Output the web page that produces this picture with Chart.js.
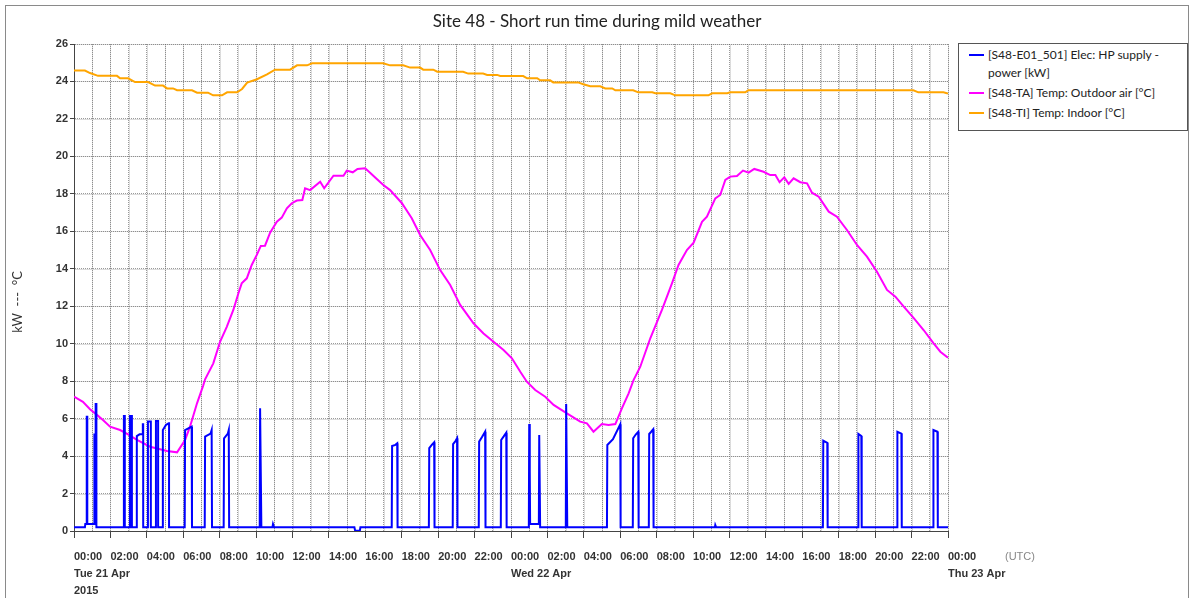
<!DOCTYPE html>
<html><head><meta charset="utf-8">
<script src="https://cdn.jsdelivr.net/npm/chart.js@4.4.1/dist/chart.umd.min.js"></script>
<style>
html,body{margin:0;padding:0;background:#fff;}
#wrap{position:relative;width:1194px;height:598px;overflow:hidden;}
#frame{position:absolute;left:5px;top:5px;width:1184px;height:600px;border:1px solid #8a8a8a;box-sizing:border-box;}
#c{position:absolute;left:0;top:0;}
#legend{position:absolute;left:958px;top:43px;width:230px;height:88px;border:1px solid #555;box-sizing:border-box;font-family:Lato,"Open Sans",sans-serif;font-size:12px;color:#222;background:#fff;}
.sw{position:absolute;left:10px;width:15px;height:2px;}
.tx{position:absolute;left:29px;line-height:17.7px;white-space:nowrap;}
</style></head>
<body><div id="wrap">
<div id="frame"></div>
<canvas id="c" width="1194" height="598"></canvas>
<div id="legend">
  <div class="sw" style="top:10px;background:#0000ff"></div>
  <div class="tx" style="top:2px">[S48-E01_501] Elec: HP supply -<br>power [kW]</div>
  <div class="sw" style="top:48px;background:#ff00ff"></div>
  <div class="tx" style="top:40px">[S48-TA] Temp: Outdoor air [°C]</div>
  <div class="sw" style="top:68px;background:#ffa500"></div>
  <div class="tx" style="top:60px">[S48-TI] Temp: Indoor [°C]</div>
</div>
</div>
<script>
// ---- data (x in hours since Tue 21 Apr 2015 00:00 UTC) ----
const titleText = 'Site 48 - Short run time during mild weather';
const yAxisTitle = 'kW  ---  °C';
const timeTickLabels = ['00:00','02:00','04:00','06:00','08:00','10:00','12:00','14:00','16:00','18:00','20:00','22:00','00:00','02:00','04:00','06:00','08:00','10:00','12:00','14:00','16:00','18:00','20:00','22:00','00:00'];
const dateTickLabels = ['Tue 21 Apr','Wed 22 Apr','Thu 23 Apr'];
const yearLabel = '2015';
const tzLabel = '(UTC)';

const powerT = [0,0.6,0.62,0.7,0.7,0.73,0.73,1.1,1.1,1.14,1.19,1.19,1.23,1.23,2.74,2.74,2.79,2.79,3.07,3.07,3.18,3.18,3.45,3.45,3.6,3.76,3.78,3.8,3.8,4.06,4.06,4.22,4.22,4.5,4.5,4.62,4.62,4.88,4.88,5.05,5.2,5.22,5.22,6.08,6.1,6.46,6.48,7.18,7.2,7.5,7.56,7.58,8.22,8.24,8.45,8.5,8.52,10.2,10.22,10.27,10.29,10.9,10.93,10.99,15.4,15.44,15.7,15.73,17.45,17.47,17.65,17.75,17.77,19.49,19.51,19.65,19.78,19.8,20.8,20.82,20.95,21.04,21.06,22.23,22.25,22.4,22.58,22.6,23.44,23.46,23.6,23.74,23.76,24.98,25.0,25.03,25.05,25.53,25.55,25.58,25.6,27.01,27.03,27.07,27.09,29.27,29.29,29.6,30.0,30.02,30.69,30.71,30.85,30.99,31.01,31.57,31.59,31.7,31.81,31.83,35.2,35.22,35.27,41.13,41.15,41.37,41.39,43.06,43.08,43.24,43.26,45.2,45.22,45.44,45.46,47.18,47.2,47.42,47.44,48];
const powerV = [0.2,0.2,0.37,0.37,6.1,6.1,0.37,0.37,5.2,0.37,0.37,6.78,6.78,0.2,0.2,6.14,6.14,0.2,0.2,6.14,6.14,0.2,0.2,5.07,5.16,5.16,5.7,5.7,0.2,0.2,5.84,5.84,0.2,0.2,5.87,5.87,0.2,0.2,5.39,5.66,5.75,5.75,0.2,0.2,5.39,5.57,0.2,0.2,5.04,5.2,5.39,0.2,0.2,4.95,5.2,5.39,0.2,0.2,6.55,6.55,0.2,0.2,0.37,0.2,0.2,0.02,0.02,0.2,0.2,4.54,4.6,4.68,0.2,0.2,4.42,4.6,4.74,0.2,0.2,4.64,4.8,4.95,0.2,0.2,4.77,5.0,5.3,0.2,0.2,4.86,5.05,5.25,0.2,0.2,5.71,3.17,0.37,0.37,5.13,5.13,0.2,0.2,6.78,6.78,0.2,0.2,4.59,4.9,5.7,0.2,0.2,4.95,5.15,5.3,0.2,0.2,5.18,5.3,5.43,0.2,0.2,0.32,0.2,0.2,4.82,4.71,0.2,0.2,5.18,5.07,0.2,0.2,5.3,5.2,0.2,0.2,5.39,5.3,0.2,0.2];

const outdoorT = [0,0.49,0.88,1.26,1.59,1.98,2.53,2.97,3.46,4.18,5.11,5.66,5.71,6.1,6.37,6.76,7.09,7.2,7.65,8.02,8.39,8.75,9.03,9.21,9.49,9.76,10.04,10.26,10.49,10.77,11.14,11.41,11.69,11.96,12.24,12.54,12.69,12.97,13.52,13.74,14.25,14.8,14.98,15.31,15.57,15.99,16.26,16.63,16.99,17.36,18.01,18.55,19.01,19.56,20.11,20.66,21.21,21.94,22.49,23.04,23.59,24.05,24.51,24.87,25.33,25.88,26.34,27.07,27.8,28.17,28.53,28.99,29.36,29.73,30.09,30.46,30.73,31.1,31.65,32.29,32.84,33.2,33.66,34.03,34.49,34.76,35.22,35.49,35.77,36.04,36.41,36.74,37.05,37.36,37.87,38.24,38.52,38.75,39.01,39.25,39.52,39.89,40.26,40.53,40.9,41.45,41.9,42.45,43.0,43.55,44.1,44.65,45.11,45.57,46.12,46.66,47.21,47.58,48];
const outdoorV = [7.17,6.9,6.5,6.2,5.93,5.57,5.39,5.16,4.86,4.5,4.27,4.2,4.2,4.86,5.57,6.83,7.75,8.1,8.95,10.1,10.9,11.8,12.69,13.22,13.49,14.2,14.74,15.22,15.23,15.93,16.51,16.73,17.23,17.5,17.64,17.67,18.3,18.2,18.65,18.3,18.97,18.97,19.24,19.15,19.33,19.36,19.13,18.79,18.47,18.2,17.5,16.7,15.8,15.0,13.93,13.13,12.07,11.09,10.55,10.1,9.66,9.22,8.5,7.97,7.53,7.17,6.73,6.28,5.84,5.75,5.3,5.71,5.66,5.71,6.55,7.35,8.06,8.77,10.29,11.8,13.22,14.2,15.0,15.39,16.51,16.78,17.76,17.94,18.74,18.92,18.95,19.24,19.13,19.33,19.18,19.0,19.0,18.62,18.88,18.53,18.83,18.62,18.56,18.06,17.85,17.05,16.78,16.07,15.27,14.65,13.84,12.87,12.51,11.98,11.36,10.73,10.02,9.57,9.25];

const indoorT = [0,0.6,0.88,1.32,2.36,2.53,2.97,3.35,4.07,4.45,4.89,5.11,5.44,5.66,6.48,6.76,7.36,7.64,8.13,8.41,8.96,9.23,9.51,10.05,10.6,11.04,11.87,12.25,12.8,13.08,16.98,17.36,18.08,18.46,19.01,19.18,19.73,19.95,21.37,21.65,22.47,22.69,23.24,23.41,24.67,24.89,25.44,25.6,26.15,26.32,27.69,27.97,28.35,28.9,29.18,29.56,29.73,30.71,30.99,31.76,31.92,32.75,33.02,34.84,35.05,35.88,36.04,36.87,37.03,46.1,46.37,47.75,48];
const indoorV = [24.58,24.58,24.45,24.3,24.3,24.17,24.17,23.97,23.97,23.78,23.78,23.63,23.63,23.53,23.53,23.4,23.4,23.26,23.26,23.42,23.42,23.6,23.94,24.12,24.38,24.63,24.63,24.86,24.86,24.97,24.97,24.86,24.86,24.74,24.74,24.63,24.63,24.52,24.52,24.42,24.42,24.35,24.35,24.29,24.29,24.17,24.17,24.06,24.06,23.95,23.95,23.85,23.74,23.74,23.63,23.63,23.53,23.53,23.42,23.42,23.37,23.37,23.26,23.26,23.37,23.37,23.42,23.42,23.53,23.53,23.42,23.42,23.35];

const pts = (t, v) => t.map((x, i) => ({x, y: v[i]}));

const tickFont = {family: '"Liberation Sans", Arial, sans-serif', size: 11, weight: 'bold', lineHeight: 1.58};

// light solid underlay beneath the dotted grid (drawn from the scales' own ticks)
const gridUnderlay = {
  id: 'gridUnderlay',
  beforeDraw(chart) {
    const {ctx, chartArea: a, scales: {x, y}} = chart;
    ctx.save();
    ctx.strokeStyle = '#dcdcdc';
    ctx.lineWidth = 1;
    ctx.beginPath();
    x.ticks.forEach(t => { const p = Math.round(x.getPixelForValue(t.value)) + 0.5; ctx.moveTo(p, a.top); ctx.lineTo(p, a.bottom); });
    y.ticks.forEach(t => { const p = Math.round(y.getPixelForValue(t.value)) + 0.5; ctx.moveTo(a.left, p); ctx.lineTo(a.right, p); });
    ctx.stroke();
    ctx.restore();
  }
};

const textPlugin = {
  id: 'texts',
  afterDraw(chart) {
    const ctx = chart.ctx;
    ctx.save();
    ctx.fillStyle = '#222';
    ctx.font = '17px Lato, "Open Sans", sans-serif';
    ctx.textAlign = 'center';
    ctx.textBaseline = 'middle';
    ctx.fillText(titleText, 597, 22);
    ctx.fillStyle = '#888';
    ctx.font = '11px "Liberation Sans", Arial, sans-serif';
    ctx.textAlign = 'left';
    ctx.fillText(tzLabel, 1005, 557);
    ctx.translate(18, 302);
    ctx.rotate(-Math.PI / 2);
    ctx.fillStyle = '#333';
    ctx.font = '13px Lato, "Open Sans", sans-serif';
    ctx.textAlign = 'center';
    ctx.fillText(yAxisTitle, 0, 0);
    ctx.restore();
  }
};

new Chart(document.getElementById('c'), {
  type: 'line',
  data: {
    datasets: [
      {label: '[S48-E01_501] Elec: HP supply - power [kW]', data: pts(powerT, powerV), borderColor: '#0000ff', borderWidth: 2},
      {label: '[S48-TA] Temp: Outdoor air [°C]', data: pts(outdoorT, outdoorV), borderColor: '#ff00ff', borderWidth: 2},
      {label: '[S48-TI] Temp: Indoor [°C]', data: pts(indoorT, indoorV), borderColor: '#ffa500', borderWidth: 2}
    ]
  },
  options: {
    responsive: false,
    animation: false,
    devicePixelRatio: 1,
    elements: {point: {radius: 0}, line: {tension: 0, fill: false}},
    layout: {padding: {left: 0, top: 44, right: 246, bottom: 0}},
    plugins: {legend: {display: false}, tooltip: {enabled: false}, title: {display: false}},
    scales: {
      x: {
        type: 'linear', min: 0, max: 48,
        afterFit(s) { s.height = 67; },
        ticks: {
          stepSize: 1, autoSkip: false, maxRotation: 0, minRotation: 0, align: 'start', padding: 10,
          color: '#333', font: tickFont,
          callback(v) {
            if (v % 2 !== 0) return '';
            const lbl = timeTickLabels[v / 2];
            if (v === 0) return [lbl, dateTickLabels[0], yearLabel];
            if (v === 24) return [lbl, dateTickLabels[1]];
            if (v === 48) return [lbl, dateTickLabels[2]];
            return lbl;
          }
        },
        grid: {
          color: 'rgba(100,100,100,0.65)', lineWidth: 1, tickLength: 7, tickWidth: 1,
          tickColor: (c) => (c.tick && c.tick.value % 2 === 0) ? '#444' : 'rgba(0,0,0,0)',
          tickBorderDash: []
        },
        border: {display: true, color: '#444', width: 1, dash: [1, 1]}
      },
      y: {
        min: 0, max: 26,
        afterFit(s) { s.width = 74; },
        ticks: {stepSize: 2, padding: 2, color: '#333', font: tickFont},
        grid: {color: 'rgba(100,100,100,0.65)', lineWidth: 1, tickLength: 4, tickColor: '#444', tickBorderDash: []},
        border: {display: true, color: '#444', width: 1, dash: [1, 1]}
      }
    }
  },
  plugins: [gridUnderlay, textPlugin]
});
</script>
</body></html>
